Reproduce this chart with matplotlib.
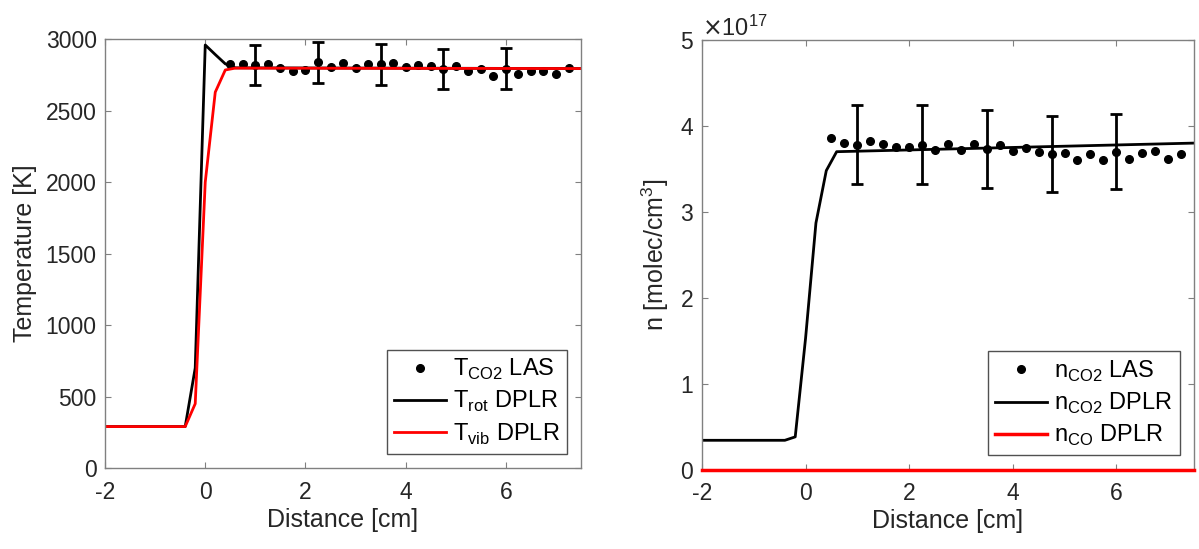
import matplotlib
matplotlib.use("Agg")
import matplotlib.pyplot as plt
from matplotlib.ticker import ScalarFormatter

plt.rcParams['font.family'] = ['Liberation Sans', 'DejaVu Sans']
plt.rcParams['axes.unicode_minus'] = False

# LAS measurements (both panels share the same positions)
x_las = [0.5, 0.75, 1.0, 1.25, 1.5, 1.75, 2.0, 2.25, 2.5, 2.75, 3.0, 3.25, 3.5, 3.75,
         4.0, 4.25, 4.5, 4.75, 5.0, 5.25, 5.5, 5.75, 6.0, 6.25, 6.5, 6.75, 7.0, 7.25]
T_co2_las = [2828, 2825, 2818, 2830, 2802, 2776, 2783, 2839, 2807, 2835, 2800, 2825,
             2825, 2832, 2805, 2823, 2812, 2790, 2816, 2776, 2795, 2746, 2795, 2758,
             2781, 2776, 2760, 2802]
n_co2_las = [3.86, 3.80, 3.78, 3.82, 3.79, 3.76, 3.76, 3.78, 3.72, 3.79, 3.72, 3.79,
             3.73, 3.78, 3.71, 3.74, 3.70, 3.67, 3.68, 3.60, 3.67, 3.60, 3.70, 3.61,
             3.69, 3.71, 3.61, 3.67]

# error bars on every fifth point
err_x = [1.0, 2.25, 3.5, 4.75, 6.0]
err_T = [2818, 2839, 2825, 2790, 2795]
err_T_size = [140, 142, 145, 140, 142]
err_n = [3.78, 3.78, 3.73, 3.67, 3.70]
err_n_size = [0.46, 0.46, 0.45, 0.44, 0.44]

# DPLR simulation
x_dplr = [-2.0, -0.4, -0.2, 0.0, 0.2, 0.4, 0.6, 7.5]
T_rot = [290, 290, 700, 2960, 2893, 2828, 2800, 2795]
T_vib = [290, 290, 450, 2000, 2630, 2785, 2798, 2795]
n_co2_dplr = [0.34, 0.34, 0.38, 1.53, 2.87, 3.48, 3.70, 3.80]
n_co_dplr = [0.0, 0.0, 0.0, 0.0, 0.0, 0.0, 0.0, 0.0]

axis_grey = '#262626'
spine_grey = '#808080'

fig = plt.figure(figsize=(11.99, 5.49), dpi=100)
ax1 = fig.add_axes([0.0876, 0.1475, 0.397, 0.781])
ax2 = fig.add_axes([0.5855, 0.1448, 0.4103, 0.7823])


def style(ax):
    for s in ax.spines.values():
        s.set_color(spine_grey)
        s.set_linewidth(1.0)
    ax.tick_params(direction='in', top=True, right=True, labelsize=16.5,
                   colors=spine_grey, labelcolor=axis_grey, length=4)
    ax.tick_params(axis='x', pad=9)
    ax.tick_params(axis='y', pad=6)
    ax.set_xlim(-2, 7.5)
    ax.set_xticks([-2, 0, 2, 4, 6])
    ax.set_xlabel('Distance [cm]', fontsize=18, color=axis_grey, labelpad=3)


# left panel: temperature
ax1.plot(x_las, T_co2_las, 'o', color='black', markersize=5.5, label=r'T$_\mathregular{CO2}$ LAS')
ax1.errorbar(err_x, err_T, yerr=err_T_size, fmt='none', ecolor='black', elinewidth=2,
             capsize=4.5, capthick=2)
ax1.plot(x_dplr, T_rot, color='black', lw=2, label=r'T$_\mathregular{rot}$ DPLR')
ax1.plot(x_dplr, T_vib, color='red', lw=2, label=r'T$_\mathregular{vib}$ DPLR')
ax1.set_ylim(0, 3000)
ax1.set_yticks(range(0, 3001, 500))
ax1.set_ylabel('Temperature [K]', fontsize=18, color=axis_grey, labelpad=6)
style(ax1)
leg1 = ax1.legend(loc='lower right', fontsize=17, frameon=True, fancybox=False,
                  edgecolor=axis_grey, handlelength=2.2, borderpad=0.3,
                  labelspacing=0.3, handletextpad=0.3, borderaxespad=0.6)
leg1.get_frame().set_linewidth(1.0)

# right panel: number density
n_las_abs = [v * 1e17 for v in n_co2_las]
ax2.plot(x_las, n_las_abs, 'o', color='black', markersize=5.5, label=r'n$_\mathregular{CO2}$ LAS')
ax2.errorbar(err_x, [v * 1e17 for v in err_n], yerr=[v * 1e17 for v in err_n_size],
             fmt='none', ecolor='black', elinewidth=2, capsize=4.5, capthick=2)
ax2.plot(x_dplr, [v * 1e17 for v in n_co2_dplr], color='black', lw=2,
         label=r'n$_\mathregular{CO2}$ DPLR')
ax2.plot(x_dplr, [v * 1e17 for v in n_co_dplr], color='red', lw=2.5, clip_on=False,
         zorder=5, label=r'n$_\mathregular{CO}$ DPLR')
ax2.set_ylim(0, 5e17)
ax2.set_yticks([i * 1e17 for i in range(6)])
fmt = ScalarFormatter(useMathText=True)
fmt.set_powerlimits((0, 0))
ax2.yaxis.set_major_formatter(fmt)
ax2.yaxis.get_offset_text().set_fontsize(17)
ax2.yaxis.get_offset_text().set_color(axis_grey)
ax2.set_ylabel(r'n [molec/cm$^\mathregular{3}$]', fontsize=18, color=axis_grey, labelpad=6)
style(ax2)
leg2 = ax2.legend(loc='lower right', fontsize=17, frameon=True, fancybox=False,
                  edgecolor=axis_grey, handlelength=2.2, borderpad=0.3,
                  labelspacing=0.3, handletextpad=0.3, borderaxespad=0.6)
leg2.get_frame().set_linewidth(1.0)

fig.savefig('out.png', dpi=100)
